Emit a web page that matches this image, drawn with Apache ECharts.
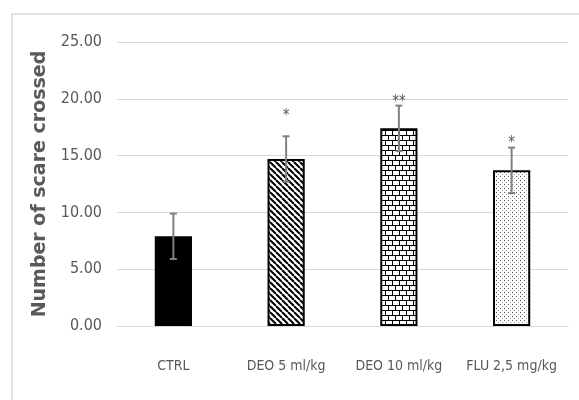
<!DOCTYPE html>
<html><head><meta charset="utf-8">
<script src="https://cdn.jsdelivr.net/npm/echarts@6/dist/echarts.min.js"></script>
<style>html,body{margin:0;padding:0;background:#fff}#c{width:579px;height:400px}</style>
</head><body><div id="c"></div>
<script>
var categories = ['CTRL', 'DEO 5 ml/kg', 'DEO 10 ml/kg', 'FLU 2,5 mg/kg'];
var means = [7.9, 14.7, 17.4, 13.7];
var errors = [2.0, 2.0, 2.0, 2.0];
var stars = ['', '*', '**', '*'];
var starLevels = [0, 18.5, 19.7, 16.1];
var yTicks = [0, 5, 10, 15, 20, 25];

function makeCanvas(w, h, draw) {
  var c = document.createElement('canvas'); c.width = w; c.height = h;
  var ctx = c.getContext('2d'); ctx.fillStyle = '#fff'; ctx.fillRect(0, 0, w, h);
  draw(ctx); return c;
}
var stripes = makeCanvas(6, 6, function (ctx) {
  ctx.strokeStyle = '#000'; ctx.lineWidth = 2;
  for (var x = -6; x <= 6; x += 6) { ctx.beginPath(); ctx.moveTo(x, 0); ctx.lineTo(x + 6, 6); ctx.stroke(); }
});
var bricks = makeCanvas(14, 10, function (ctx) {
  ctx.fillStyle = '#000';
  ctx.fillRect(0, 0, 14, 1); ctx.fillRect(0, 5, 14, 1);
  ctx.fillRect(0, 0, 1, 5); ctx.fillRect(7, 0, 1, 5);
  ctx.fillRect(3, 5, 1, 5); ctx.fillRect(10, 5, 1, 5);
});
var dots = makeCanvas(4, 4, function (ctx) {
  ctx.fillStyle = '#555'; ctx.fillRect(0, 0, 1, 1);
  ctx.fillStyle = '#999'; ctx.fillRect(2, 2, 1, 1);
});
var fills = ['#000', { image: stripes, repeat: 'repeat' }, { image: bricks, repeat: 'repeat' }, { image: dots, repeat: 'repeat' }];

var narrow = "'Liberation Sans Narrow', 'DejaVu Sans Condensed', sans-serif";
var chart = echarts.init(document.getElementById('c'));
chart.setOption({
  animation: false,
  graphic: [{ type: 'rect', shape: { x: 12, y: 14, width: 600, height: 420 }, style: { fill: 'none', stroke: '#d9d9d9', lineWidth: 1.5 }, silent: true }],
  grid: { left: 117, right: 11, top: 42, bottom: 74 },
  xAxis: {
    type: 'category', data: categories,
    axisLine: { show: true, lineStyle: { color: '#d9d9d9', width: 1 } },
    axisTick: { show: false },
    axisLabel: { color: '#595959', fontFamily: narrow, fontSize: 14, margin: 33, interval: 0 }
  },
  yAxis: {
    type: 'value', min: 0, max: 25, interval: 5,
    name: 'Number of scare crossed', nameLocation: 'middle', nameGap: 58,
    nameTextStyle: { color: '#595959', fontFamily: 'DejaVu Sans', fontWeight: 'bold', fontSize: 19 },
    axisLine: { show: false }, axisTick: { show: false },
    splitLine: { lineStyle: { color: '#d9d9d9', width: 1 } },
    axisLabel: { color: '#595959', fontFamily: narrow, fontSize: 16, margin: 15, formatter: function (v) { return v.toFixed(2); } }
  },
  series: [{
    type: 'bar', barWidth: '33%',
    data: means.map(function (v, i) { return { value: v, itemStyle: { color: fills[i], borderColor: '#000', borderWidth: 2 } }; })
  }, {
    type: 'custom', z: 5,
    data: means.map(function (v, i) { return [i, v - errors[i], v + errors[i]]; }),
    renderItem: function (params, api) {
      var lo = api.coord([api.value(0), api.value(1)]);
      var hi = api.coord([api.value(0), api.value(2)]);
      var x = lo[0], hw = 3.5;
      var st = { stroke: '#808080', lineWidth: 2 };
      return { type: 'group', children: [
        { type: 'line', shape: { x1: x, y1: lo[1], x2: x, y2: hi[1] }, style: st },
        { type: 'line', shape: { x1: x - hw, y1: lo[1], x2: x + hw, y2: lo[1] }, style: st },
        { type: 'line', shape: { x1: x - hw, y1: hi[1], x2: x + hw, y2: hi[1] }, style: st }
      ] };
    }
  }, {
    type: 'custom', z: 6,
    data: starLevels.map(function (v, i) { return [i, v]; }),
    renderItem: function (params, api) {
      var p = api.coord([api.value(0), api.value(1)]);
      var t = stars[params.dataIndex];
      if (!t) return null;
      return { type: 'text', x: p[0], y: p[1], style: { text: t, fill: '#595959', font: '15px ' + narrow, align: 'center', verticalAlign: 'middle' } };
    }
  }]
});
</script></body></html>
